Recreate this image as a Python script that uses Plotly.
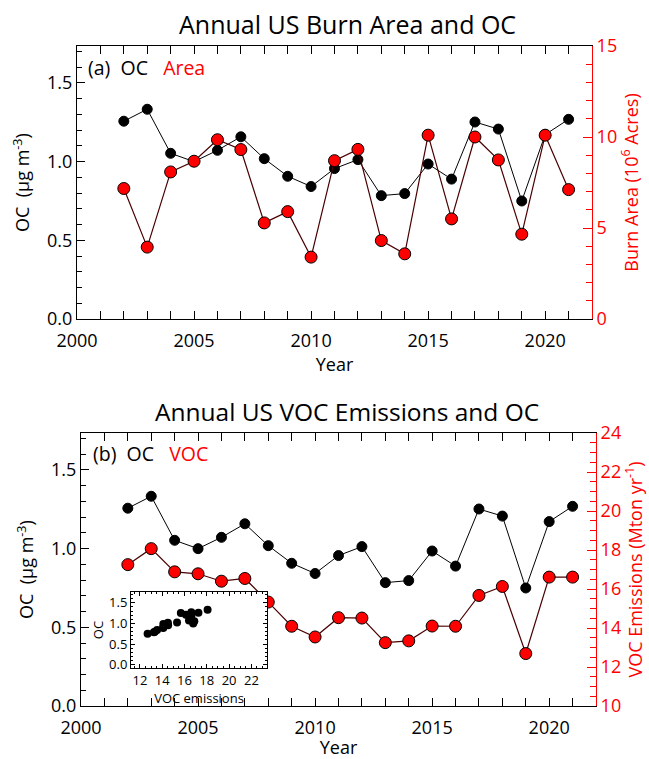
import plotly.graph_objects as go

years = list(range(2002, 2022))
oc = [1.257, 1.333, 1.053, 1.000, 1.072, 1.158, 1.019, 0.907, 0.842, 0.956,
      1.013, 0.784, 0.797, 0.985, 0.889, 1.252, 1.207, 0.750, 1.172, 1.269]
burn_area = [7.17, 3.95, 8.08, 8.67, 9.85, 9.31, 5.28, 5.90, 3.40, 8.70,
             9.32, 4.31, 3.58, 10.1, 5.50, 10.0, 8.74, 4.66, 10.1, 7.11]
voc = [17.25, 18.07, 16.88, 16.78, 16.40, 16.54, 15.33, 14.09, 13.54, 14.53,
       14.51, 13.25, 13.34, 14.10, 14.09, 15.67, 16.13, 12.69, 16.61, 16.61]

FONT = "Open Sans"
RED = "#ff0000"
W, H = 649, 759

def dom_x(a, b):
    return [a / W, b / W]

def dom_y(top, bottom):
    return [(H - bottom) / H, (H - top) / H]

fig = go.Figure()

# ---- Panel (a)
fig.add_trace(go.Scatter(x=years, y=oc, mode="lines+markers", xaxis="x", yaxis="y",
                         line=dict(color="black", width=1),
                         marker=dict(color="black", size=10, line=dict(color="black", width=1)),
                         showlegend=False))
fig.add_trace(go.Scatter(x=years, y=burn_area, mode="lines+markers", xaxis="x", yaxis="y2",
                         line=dict(color="#4a0000", width=1.2),
                         marker=dict(color=RED, size=12, line=dict(color="black", width=1)),
                         showlegend=False))
# ---- Panel (b)
fig.add_trace(go.Scatter(x=years, y=oc, mode="lines+markers", xaxis="x2", yaxis="y3",
                         line=dict(color="black", width=1),
                         marker=dict(color="black", size=10, line=dict(color="black", width=1)),
                         showlegend=False))
fig.add_trace(go.Scatter(x=years, y=voc, mode="lines+markers", xaxis="x2", yaxis="y4",
                         line=dict(color="#4a0000", width=1.2),
                         marker=dict(color=RED, size=12, line=dict(color="black", width=1)),
                         showlegend=False))
# ---- Inset
fig.add_trace(go.Scatter(x=voc, y=oc, mode="markers", xaxis="x3", yaxis="y5",
                         marker=dict(color="black", size=8),
                         showlegend=False))

tickfont = dict(family=FONT, size=18, color="black")
redfont = dict(family=FONT, size=18, color=RED)
titlefont = dict(family=FONT, size=18, color="black")

def xaxis_cfg(domain, anchor):
    return dict(domain=domain, anchor=anchor, range=[2000, 2022], dtick=5, tick0=2000,
                ticks="inside", ticklen=8, tickcolor="black", showline=True, linecolor="black",
                linewidth=1, mirror="allticks", showgrid=False, zeroline=False,
                tickfont=tickfont, automargin=False, ticklabelstandoff=5,
                minor=dict(dtick=1, ticks="inside", ticklen=5, tickcolor="black"),
                title=dict(text="Year", font=titlefont, standoff=0))

def ocaxis_cfg(domain, anchor):
    return dict(domain=domain, anchor=anchor, range=[0, 1.735], dtick=0.5, tick0=0,
                tickformat=".1f", ticks="inside", ticklen=8, tickcolor="black",
                showline=True, linecolor="black", linewidth=1, mirror=False,
                showgrid=False, zeroline=False, tickfont=tickfont, automargin=False,
                minor=dict(dtick=0.1, ticks="inside", ticklen=5, tickcolor="black"),
                title=dict(text="OC  (\u03bcg m<sup>-3</sup>)", font=titlefont, standoff=12))

xa_dom = dom_x(77, 592)
ya_dom = dom_y(46, 319)
xb_dom = dom_x(81, 596)
yb_dom = dom_y(433, 706)

fig.update_layout(
    width=W, height=H, margin=dict(l=0, r=0, t=0, b=0),
    paper_bgcolor="white", plot_bgcolor="white",
    font=dict(family=FONT, color="black"),
    xaxis=xaxis_cfg(xa_dom, "y"),
    yaxis=ocaxis_cfg(ya_dom, "x"),
    yaxis2=dict(overlaying="y", side="right", anchor="x", range=[0, 15], dtick=5, tick0=0,
                ticks="inside", ticklen=9, tickcolor=RED, showline=True, linecolor=RED,
                linewidth=1, showgrid=False, zeroline=False, tickfont=redfont,
                automargin=False,
                minor=dict(dtick=1, ticks="inside", ticklen=6, tickcolor=RED),
                title=dict(text="Burn Area (10<sup>6</sup> Acres)",
                           font=dict(family=FONT, size=18, color=RED), standoff=8)),
    xaxis2=xaxis_cfg(xb_dom, "y3"),
    yaxis3=ocaxis_cfg(yb_dom, "x2"),
    yaxis4=dict(overlaying="y3", side="right", anchor="x2", range=[10, 24], dtick=2, tick0=10,
                ticks="inside", ticklen=9, tickcolor=RED, showline=True, linecolor=RED,
                linewidth=1, showgrid=False, zeroline=False, tickfont=redfont,
                automargin=False,
                minor=dict(dtick=0.5, ticks="inside", ticklen=6, tickcolor=RED),
                title=dict(text="VOC Emissions (Mton yr<sup>-1</sup>)",
                           font=dict(family=FONT, size=18, color=RED), standoff=5)),
    xaxis3=dict(domain=dom_x(131, 267), anchor="y5", range=[11.2, 23.4], dtick=2, tick0=12,
                ticks="inside", ticklen=4, tickcolor="black", showline=True, linecolor="black",
                linewidth=1, mirror="allticks", showgrid=False, zeroline=False,
                automargin=False,
                tickfont=dict(family=FONT, size=13, color="black"),
                minor=dict(dtick=0.5, ticks="inside", ticklen=2, tickcolor="black"),
                title=dict(text="VOC emissions", font=dict(family=FONT, size=13, color="black"),
                           standoff=0)),
    yaxis5=dict(domain=dom_y(592, 668), anchor="x3", range=[-0.08, 1.76], dtick=0.5, tick0=0,
                tickformat=".1f", ticks="inside", ticklen=4, tickcolor="black", showline=True,
                linecolor="black", linewidth=1, mirror="allticks", showgrid=False,
                zeroline=False, automargin=False,
                tickfont=dict(family=FONT, size=13, color="black"),
                minor=dict(dtick=0.1, ticks="inside", ticklen=2, tickcolor="black"),
                title=dict(text="OC", font=dict(family=FONT, size=13, color="black"),
                           standoff=2)),
    annotations=[
        dict(text="Annual US Burn Area and OC", xref="paper", yref="paper",
             x=347 / W, y=(H - 24) / H, xanchor="center", yanchor="middle",
             showarrow=False, font=dict(family=FONT, size=25, color="black")),
        dict(text="Annual US VOC Emissions and OC", xref="paper", yref="paper",
             x=347 / W, y=(H - 411) / H, xanchor="center", yanchor="middle",
             showarrow=False, font=dict(family=FONT, size=24.5, color="black")),
        dict(text="(a)  OC   <span style='color:#ff0000'>Area</span>", xref="paper",
             yref="paper", x=86 / W, y=(H - 67) / H, xanchor="left", yanchor="middle",
             showarrow=False, font=dict(family=FONT, size=19.5, color="black")),
        dict(text="(b)  OC   <span style='color:#ff0000'>VOC</span>", xref="paper",
             yref="paper", x=91 / W, y=(H - 454) / H, xanchor="left", yanchor="middle",
             showarrow=False, font=dict(family=FONT, size=19.5, color="black")),
    ],
)

fig.write_html("out.html")
